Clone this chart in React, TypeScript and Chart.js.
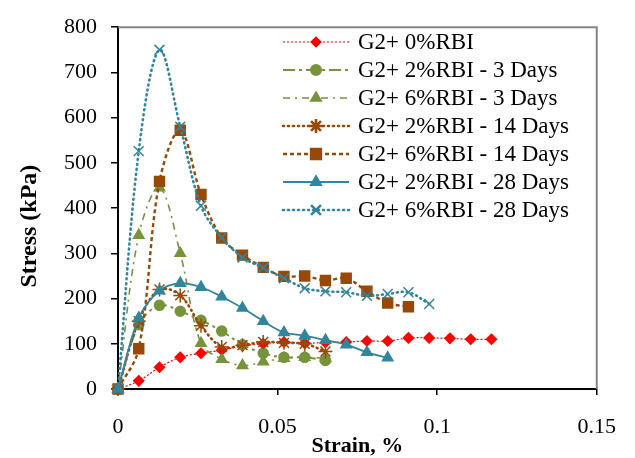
import React, { useEffect, useRef } from "react";
import { Chart, registerables } from "chart.js";
import { drawPoint } from "chart.js/helpers";

Chart.register(...registerables);

const strain = [0, 0.0065, 0.013, 0.0195, 0.026, 0.0325, 0.039, 0.0455, 0.052, 0.0585, 0.065, 0.0715, 0.078, 0.0845, 0.091, 0.0975, 0.104, 0.1105, 0.117];

const seriesLabels = [
  "G2+ 0%RBI",
  "G2+ 2%RBI - 3 Days",
  "G2+ 6%RBI - 3 Days",
  "G2+ 2%RBI - 14 Days",
  "G2+ 6%RBI - 14 Days",
  "G2+ 2%RBI - 28 Days",
  "G2+ 6%RBI - 28 Days",
];

const stress0 = [0, 18, 48, 70, 79, 86, 95, 100, 104, 101, 103, 104, 106, 106, 113, 113, 112, 110, 110];
const stress2d3 = [0, 142, 185, 172, 152, 128, 98, 79, 70, 70, 63];
const stress6d3 = [0, 340, 445, 300, 101, 66, 52, 60, 68, 70, 68];
const stress2d14 = [0, 150, 220, 207, 140, 93, 97, 104, 102, 100, 83];
const stress6d14 = [0, 89, 459, 572, 430, 334, 296, 269, 249, 250, 240, 245, 216, 190, 182];
const stress2d28 = [0, 157, 217, 234, 225, 204, 179, 150, 125, 118, 108, 98, 81, 69];
const stress6d28 = [0, 526, 750, 580, 405, 335, 291, 268, 245, 223, 216, 214, 206, 210, 214, 188];

const xTicks = [0, 0.05, 0.1, 0.15];
const yMax = 800;

const RED = "#FF0000";
const GREEN = "#77933C";
const BROWN = "#984807";
const TEAL = "#31859C";

const toPoints = (vals: number[]) => vals.map((v, i) => ({ x: strain[i], y: v }));

const styles = [
  { color: RED, dash: [2, 2], width: 1.2, cap: "butt", point: "rectRot", radius: 5 },
  { color: GREEN, dash: [12, 4, 3, 4], width: 2, cap: "butt", point: "circle", radius: 5 },
  { color: GREEN, dash: [7, 5, 2, 5], width: 1.6, cap: "butt", point: "triangle", radius: 6 },
  { color: BROWN, dash: [1, 4], width: 2.6, cap: "round", point: "star", radius: 7 },
  { color: BROWN, dash: [4, 3], width: 2.4, cap: "butt", point: "rect", radius: 7 },
  { color: TEAL, dash: [], width: 1.8, cap: "butt", point: "triangle", radius: 6 },
  { color: TEAL, dash: [1, 4], width: 2.6, cap: "round", point: "crossRot", radius: 7 },
];

const seriesValues = [stress0, stress2d3, stress6d3, stress2d14, stress6d14, stress2d28, stress6d28];

const legendPlugin = {
  id: "insideLegend",
  afterDraw(chart: any) {
    const ctx = chart.ctx;
    ctx.save();
    const x1 = 283, x2 = 349, xm = 316, tx = 358;
    seriesLabels.forEach((label, i) => {
      const st = styles[i];
      const y = 42 + i * 28;
      ctx.strokeStyle = st.color;
      ctx.lineWidth = st.width;
      ctx.lineCap = st.cap;
      ctx.setLineDash(st.dash);
      ctx.beginPath();
      ctx.moveTo(x1, y);
      ctx.lineTo(x2, y);
      ctx.stroke();
      ctx.setLineDash([]);
      ctx.lineCap = "butt";
      ctx.fillStyle = st.color;
      ctx.strokeStyle = st.color;
      drawPoint(ctx, { pointStyle: st.point, radius: st.radius, rotation: 0, borderWidth: 1.5 }, xm, y);
      ctx.fillStyle = "#000";
      ctx.font = "23px 'Liberation Serif'";
      ctx.textBaseline = "middle";
      ctx.textAlign = "left";
      ctx.fillText(label, tx, y + 1);
    });
    ctx.restore();
  },
};

const framePlugin = {
  id: "frame",
  beforeDatasetsDraw(chart: any) {
    const { ctx, chartArea } = chart;
    ctx.save();
    ctx.strokeStyle = "#858585";
    ctx.lineWidth = 2;
    ctx.beginPath();
    ctx.moveTo(chartArea.left, chartArea.top);
    ctx.lineTo(chartArea.right, chartArea.top);
    ctx.lineTo(chartArea.right, chartArea.bottom);
    ctx.stroke();
    ctx.restore();
  },
};

export default function App() {
  const ref = useRef<HTMLCanvasElement | null>(null);
  useEffect(() => {
    if (!ref.current) return;
    const datasets = seriesLabels.map((label, i) => {
      const st = styles[i];
      return {
        label,
        data: toPoints(seriesValues[i]),
        borderColor: st.color,
        backgroundColor: st.color,
        borderWidth: st.width,
        borderDash: st.dash,
        borderCapStyle: st.cap,
        pointStyle: st.point,
        pointRadius: st.radius,
        pointBorderWidth: 1.5,
        pointBackgroundColor: st.color,
        pointBorderColor: st.color,
        tension: 0.35,
        clip: false as any,
        order: 6 - i,
      };
    });
    const chart = new Chart(ref.current, {
      type: "line",
      data: { datasets },
      options: {
        animation: false,
        responsive: false,
        maintainAspectRatio: false,
        layout: { padding: { top: 20, right: 38, left: 0, bottom: 0 } },
        plugins: { legend: { display: false }, tooltip: { enabled: false } },
        scales: {
          x: {
            type: "linear",
            min: 0,
            max: 0.15,
            afterBuildTicks: (scale: any) => {
              scale.ticks = xTicks.map((v) => ({ value: v }));
            },
            afterFit: (scale: any) => {
              scale.height = 69;
            },
            border: { display: true, color: "#000", width: 2 },
            grid: { display: true, drawOnChartArea: false, drawTicks: true, tickLength: 6, color: "#000", lineWidth: 1.5 },
            ticks: {
              color: "#000",
              padding: 19,
              maxRotation: 0,
              font: { family: "'Liberation Serif'", size: 22 },
              callback: (v: any) => String(v),
            },
            title: {
              display: true,
              text: "Strain, %",
              color: "#000",
              font: { family: "'Liberation Serif'", size: 22, weight: "bold", lineHeight: 1 },
              padding: { top: 0, bottom: 1 },
            },
          },
          y: {
            type: "linear",
            min: 0,
            max: yMax,
            ticks: {
              stepSize: 100,
              color: "#000",
              padding: 14,
              font: { family: "'Liberation Serif'", size: 22 },
            },
            afterFit: (scale: any) => {
              scale.width = 118;
            },
            border: { display: true, color: "#000", width: 2 },
            grid: { display: true, drawOnChartArea: false, drawTicks: true, tickLength: 7, color: "#000", lineWidth: 1.5 },
            title: {
              display: true,
              text: "Stress (kPa)      ",
              color: "#000",
              font: { family: "'Liberation Serif'", size: 24, weight: "bold", lineHeight: 1 },
              padding: { top: 18, bottom: 0 },
            },
          },
        },
      },
      plugins: [framePlugin, legendPlugin],
    } as any);
    return () => chart.destroy();
  }, []);
  return (
    <div style={{ position: "fixed", left: 0, top: 0, width: 635, height: 458, background: "#fff" }}>
      <canvas ref={ref} width={635} height={458} style={{ width: 635, height: 458, display: "block" }} />
    </div>
  );
}
